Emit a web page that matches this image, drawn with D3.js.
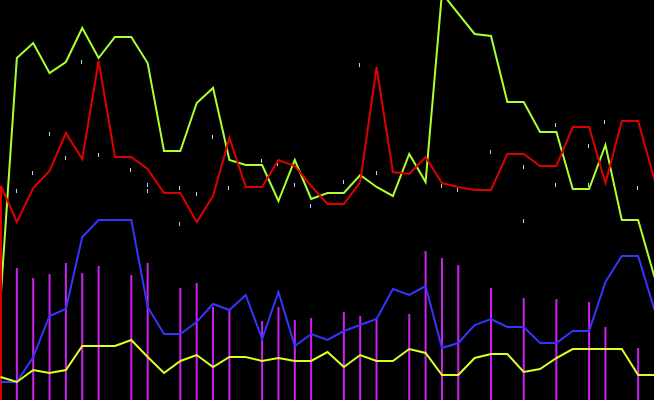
<!DOCTYPE html>
<meta charset="utf-8">
<style>
  html, body { margin: 0; padding: 0; background: #000; }
  svg { display: block; }
</style>
<body>
<div class="chart"></div>
<script src="https://cdn.jsdelivr.net/npm/d3@7"></script>
<script>
  // series values, one per index 0..40
  var greenVals = [25, 85.5, 89.25, 81.75, 84.5, 93, 85.5, 90.75, 90.75, 84.25, 62.25, 62.25, 74.25, 78, 60, 58.75, 58.75, 49.75, 60, 50.25, 51.75, 51.75, 56.25, 53.25, 51, 61.5, 54.5, 101.75, 96.6, 91.5, 91, 74.5, 74.5, 67, 67, 52.75, 52.75, 63.75, 45, 45, 30.75];
  var redVals = [53.5, 44.5, 53, 57.25, 66.75, 60.25, 84.75, 60.75, 60.75, 57.75, 51.75, 51.75, 44.5, 51, 65.5, 53.25, 53.25, 60, 58.5, 53.5, 49, 49, 54.5, 83.25, 57, 56.5, 60.75, 54.25, 53.25, 52.5, 52.5, 61.5, 61.5, 58.5, 58.5, 68.25, 68.25, 54.25, 69.75, 69.75, 55];
  var redStart = 0; // red series begins at the floor
  var blueVals = [4.5, 4.5, 10.75, 21, 22.75, 40.75, 45, 45, 45, 23.25, 16.5, 16.5, 19.5, 24, 22.5, 26.25, 15.25, 27, 13.5, 16.5, 15, 17.25, 18.75, 20.25, 27.75, 26.25, 28.5, 13, 14.25, 18.75, 20.25, 18.25, 18.25, 14.25, 14.25, 17.25, 17.25, 29.5, 36, 36, 22.5];
  var yellowVals = [5.75, 4.5, 7.5, 6.75, 7.5, 13.5, 13.5, 13.5, 15, 10.75, 6.75, 9.75, 11.25, 8.25, 10.75, 10.75, 9.75, 10.5, 9.75, 9.75, 12, 8.25, 11.25, 9.75, 9.75, 12.75, 11.75, 6.25, 6.25, 10.5, 11.5, 11.5, 7, 7.75, 10.5, 12.75, 12.75, 12.75, 12.75, 6.25, 6.25];

  // bars: index and height
  var barIdx = [1, 2, 3, 4, 5, 6, 8, 9, 11, 12, 13, 14, 16, 17, 18, 19, 21, 22, 23, 25, 26, 27, 28, 30, 32, 34, 36, 37, 39];
  var barVals = [33, 30.5, 31.5, 34.25, 31.75, 33.5, 31.25, 34.25, 28, 29.25, 23.25, 22.5, 19.75, 23.25, 20, 20.5, 22, 21, 20.5, 21.5, 37.25, 35.5, 33.75, 28, 25.5, 25.25, 24.5, 18.25, 13];

  // small markers: index and value
  var tickIdx = [1, 2, 3, 4, 5, 6, 8, 9, 9, 11, 11, 12, 13, 14, 16, 17, 18, 19, 21, 22, 23, 26, 27, 28, 30, 32, 32, 34, 34, 36, 36, 37, 39];
  var tickVals = [52.75, 57.25, 67, 61, 85, 61.75, 58, 54.25, 52.75, 53.5, 44.5, 52, 66.25, 53.5, 60.25, 59.5, 54.25, 49, 55, 84.25, 57.25, 55.5, 54, 53, 62.5, 58.75, 45.25, 69.25, 54.25, 64, 54.25, 70, 53.5];

  var width = 654, height = 400;

  var x = d3.scaleLinear().domain([0, 40]).range([0, 654]);
  var y = d3.scaleLinear().domain([0, 100]).range([400, 0]);

  var svg = d3.select(".chart").append("svg")
      .attr("width", width)
      .attr("height", height)
      .style("background", "#000");

  // bars
  svg.append("g").selectAll("rect")
      .data(barIdx.map(function(d, i) { return {i: d, v: barVals[i]}; }))
      .enter().append("rect")
      .attr("x", function(d) { return x(d.i) - 0.5; })
      .attr("width", 2)
      .attr("y", function(d) { return y(d.v); })
      .attr("height", function(d) { return y(0) - y(d.v); })
      .attr("fill", "#cc22ee");

  // markers
  svg.append("g").selectAll("rect")
      .data(tickIdx.map(function(d, i) { return {i: d, v: tickVals[i]}; }))
      .enter().append("rect")
      .attr("x", function(d) { return Math.floor(x(d.i)); })
      .attr("width", 1)
      .attr("y", function(d) { return y(d.v); })
      .attr("height", 4)
      .attr("fill", "#add8e6");

  var line = d3.line()
      .x(function(d) { return d[0]; })
      .y(function(d) { return d[1]; });

  function pts(vals) {
    return vals.map(function(v, i) { return [x(i) + 0.5, y(v)]; });
  }

  var series = [
    {vals: greenVals, color: "#adff2f"},
    {vals: redVals, color: "#dd0000", lead: redStart},
    {vals: blueVals, color: "#3535ff"},
    {vals: yellowVals, color: "#ddff22"}
  ];

  series.forEach(function(s) {
    var p = pts(s.vals);
    if (s.lead !== undefined) p.unshift([x(0) + 1, y(s.lead)]), p[1][0] = x(0) + 1;
    svg.append("path")
        .attr("d", line(p))
        .attr("fill", "none")
        .attr("stroke", s.color)
        .attr("stroke-width", 2);
  });
</script>
</body>
